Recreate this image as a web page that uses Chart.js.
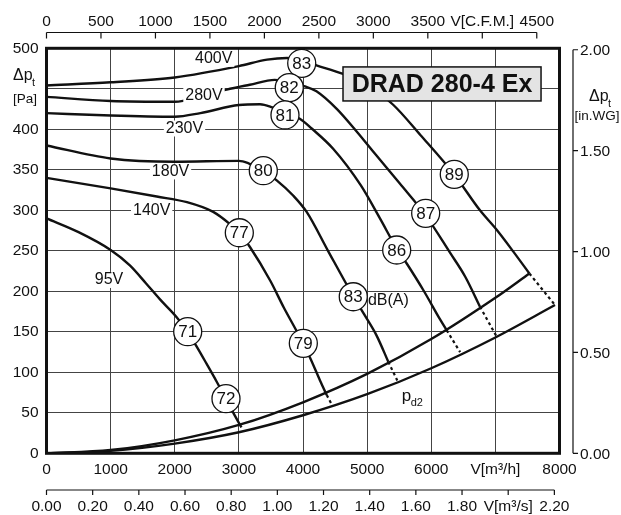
<!DOCTYPE html>
<html>
<head>
<meta charset="utf-8">
<script src="https://cdn.jsdelivr.net/npm/chart.js@4.4.0/dist/chart.umd.min.js"></script>
<style>
  html, body { margin: 0; padding: 0; background: #fff; }
  #wrap { width: 621px; height: 515px; }
</style>
</head>
<body>
<div id="wrap"><canvas id="fanChart" width="621" height="515"></canvas></div>
<script>
// fan curves: [flow V m3/h, total pressure Pa]
const curve400 = [[0,454],[1000,458],[2000,464],[3000,478],[3440,486],[3750,488],[3980,485],[4210,479],[4600,469],[5000,455],[5410,430],[5830,393],[6360,344],[6760,300],[7020,276],[7280,249],[7530,222]];
const curve280 = [[0,440],[1000,435],[2000,434],[2400,440],[2810,449],[3170,455],[3560,461],[3800,458],[4030,453],[4210,447],[4530,425],[4840,397],[5120,370],[5510,333],[5910,294],[6290,248],[6530,218],[6760,181]];
const curve230 = [[0,420],[1000,417],[2000,415.5],[2400,420],[3000,430],[3330,431],[3520,427],[3720,420],[3950,413],[4135,401],[4470,376],[4900,331],[5200,290],[5460,253],[5620,234],[5880,201],[6140,165],[6240,152]];
const curve180 = [[0,380],[1000,364],[2000,360],[3000,361],[3150,358],[3380,349],[3590,337],[3850,318],[4057,298],[4390,250],[4740,200],[4950,172],[5150,145],[5330,113]];
const curve140 = [[0,340],[1000,327],[1720,317],[2190,310],[2600,298],[2860,283],[3010,272],[3170,255],[3490,213],[3700,180],[3900,151],[4005,135],[4110,118],[4265,90],[4370,72]];
const curve95 = [[0,290],[500,273],[1000,251],[1300,232],[1550,210],[1770,190],[2030,168],[2200,150],[2340,132],[2500,110],[2650,89],[2800,67],[2920,49],[3040,32]];

// dotted continuations down to the pd2 line
const tail400 = [[7530,222],[7930,183]];
const tail280 = [[6760,181],[7020,144]];
const tail230 = [[6240,152],[6450,125]];
const tail180 = [[5330,113],[5470,90]];
const tail140 = [[4370,72],[4450,60]];

// system lines
const limitLine = [[0,0],[1000,4],[2000,16],[3000,35],[4000,63],[5000,98],[6000,141],[7000,192],[7530,222]];
const pd2Line = [[0,0],[1000,3],[2000,12],[3000,26],[4000,47],[5000,73],[6000,105],[7000,143],[7930,183]];

// labels: [text, V, p]
const voltLabels = [['400V',2607,487],['280V',2456,442],['230V',2152,401],['180V',1934,348],['140V',1640,300],['95V',975,214]];
const dbCircles = [['83',3980,481.5],['82',3786,451.4],['81',3719,417.7],['80',3381,348.9],['77',3007,272.3],['71',2202,150.1],
                   ['89',6359,344.4],['87',5913,296.3],['86',5461,251],['83',4784,193.3],['79',4005,135.8],['72',2799,67.4]];

// secondary axes
const cfmTicks = [0,500,1000,1500,2000,2500,3000,3500,4000,4500];
const cfmLabels = ['0','500','1000','1500','2000','2500','3000','3500','V[C.F.M.]','4500'];
const m3sTicks = [0,0.2,0.4,0.6,0.8,1.0,1.2,1.4,1.6,1.8,2.0,2.2];
const m3sLabels = ['0.00','0.20','0.40','0.60','0.80','1.00','1.20','1.40','1.60','1.80','V[m³/s]','2.20'];
const inwgTicks = [0,0.5,1.0,1.5,2.0];
const inwgLabels = ['0.00','0.50','1.00','1.50','2.00'];

const CFM = 1.699, M3S = 3600, INWG = 249.09;
const FONT = '"Liberation Sans", Arial, sans-serif';
const INK = '#111';

function txt(ctx, s, x, y, size, align = 'center', weight = '') {
  ctx.font = `${weight} ${size}px ${FONT}`;
  ctx.textAlign = align;
  ctx.textBaseline = 'middle';
  ctx.fillText(s, x, y);
}

const extras = {
  id: 'extras',
  afterDatasetsDraw(chart) {
    const { ctx, chartArea: a, scales: { x, y } } = chart;
    ctx.save();
    ctx.fillStyle = INK;
    ctx.strokeStyle = INK;

    // frame
    ctx.lineWidth = 3;
    ctx.strokeRect(a.left, a.top, a.right - a.left, a.bottom - a.top);

    // top axis, C.F.M.
    ctx.lineWidth = 1.2;
    const topY = 32.5;
    ctx.beginPath();
    ctx.moveTo(x.getPixelForValue(0), topY);
    ctx.lineTo(x.getPixelForValue(4500 * CFM), topY);
    cfmTicks.forEach(v => {
      const px = x.getPixelForValue(v * CFM);
      ctx.moveTo(px, topY); ctx.lineTo(px, topY + 6);
    });
    ctx.stroke();
    cfmTicks.forEach((v, i) => txt(ctx, cfmLabels[i], x.getPixelForValue(v * CFM), 22, 15.5));

    // bottom axis, m3/s
    const botY = 490;
    ctx.beginPath();
    ctx.moveTo(x.getPixelForValue(0), botY);
    ctx.lineTo(x.getPixelForValue(2.2 * M3S), botY);
    m3sTicks.forEach(v => {
      const px = x.getPixelForValue(v * M3S);
      ctx.moveTo(px, botY); ctx.lineTo(px, botY + 5);
    });
    ctx.stroke();
    m3sTicks.forEach((v, i) => txt(ctx, m3sLabels[i], x.getPixelForValue(v * M3S), 506.5, 15.5));

    // right axis, in.WG
    const rx = 573;
    ctx.beginPath();
    ctx.moveTo(rx, y.getPixelForValue(0));
    ctx.lineTo(rx, y.getPixelForValue(2 * INWG));
    inwgTicks.forEach(v => {
      const py = y.getPixelForValue(v * INWG);
      ctx.moveTo(rx, py); ctx.lineTo(rx + 5, py);
    });
    ctx.stroke();
    inwgTicks.forEach((v, i) => txt(ctx, inwgLabels[i], 580, y.getPixelForValue(v * INWG) + 1, 15.5, 'left'));

    // axis titles
    txt(ctx, 'Δp', 13, 76, 16, 'left');
    txt(ctx, 't', 32, 83, 11, 'left');
    txt(ctx, '[Pa]', 25, 99, 13.5);
    txt(ctx, 'Δp', 589, 97, 16, 'left');
    txt(ctx, 't', 608, 104, 11, 'left');
    txt(ctx, '[in.WG]', 597, 116, 13.5);

    // voltage labels on white
    voltLabels.forEach(([s, v, p]) => {
      const px = x.getPixelForValue(v), py = y.getPixelForValue(p);
      ctx.font = `16px ${FONT}`;
      const w = ctx.measureText(s).width;
      ctx.fillStyle = '#fff';
      ctx.fillRect(px - w / 2 - 2, py - 8, w + 4, 16);
      ctx.fillStyle = INK;
      txt(ctx, s, px, py, 16);
    });

    // dB(A) circles
    dbCircles.forEach(([s, v, p]) => {
      const px = x.getPixelForValue(v), py = y.getPixelForValue(p);
      ctx.beginPath();
      ctx.arc(px, py, 14, 0, Math.PI * 2);
      ctx.fillStyle = '#fff';
      ctx.fill();
      ctx.lineWidth = 1.3;
      ctx.stroke();
      ctx.fillStyle = INK;
      txt(ctx, s, px, py + 1, 17);
    });
    txt(ctx, 'dB(A)', x.getPixelForValue(5013), y.getPixelForValue(189), 16, 'left');

    // pd2
    const pdx = x.getPixelForValue(5539), pdy = y.getPixelForValue(70);
    txt(ctx, 'p', pdx, pdy, 17, 'left');
    txt(ctx, 'd2', pdx + 9, pdy + 6, 11, 'left');

    // type box
    const bx0 = x.getPixelForValue(4624), bx1 = x.getPixelForValue(7712);
    const by0 = y.getPixelForValue(477), by1 = y.getPixelForValue(435);
    ctx.fillStyle = '#e4e4e4';
    ctx.fillRect(bx0, by0, bx1 - bx0, by1 - by0);
    ctx.lineWidth = 1.5;
    ctx.strokeRect(bx0, by0, bx1 - bx0, by1 - by0);
    ctx.fillStyle = INK;
    txt(ctx, 'DRAD 280-4 Ex', (bx0 + bx1) / 2, (by0 + by1) / 2 + 1, 25, 'center', 'bold');

    ctx.restore();
  }
};

const toPts = data => data.map(([v, p]) => ({ x: v, y: p }));
const solid = data => ({
  data: toPts(data), borderColor: INK, borderWidth: 2.4, pointRadius: 0,
  showLine: true, fill: false, cubicInterpolationMode: 'monotone'
});
const dotted = data => ({
  data: toPts(data), borderColor: INK, borderWidth: 2.2, pointRadius: 0,
  showLine: true, fill: false, borderDash: [3, 3]
});

const ctx = document.getElementById('fanChart').getContext('2d');
new Chart(ctx, {
  type: 'scatter',
  data: {
    datasets: [
      solid(curve400), solid(curve280), solid(curve230), solid(curve180), solid(curve140), solid(curve95),
      dotted(tail400), dotted(tail280), dotted(tail230), dotted(tail180), dotted(tail140),
      solid(limitLine), solid(pd2Line)
    ]
  },
  options: {
    responsive: false,
    devicePixelRatio: 1,
    animation: false,
    events: [],
    layout: { padding: { top: 48.3, right: 61.5, bottom: 31.7, left: 0 } },
    plugins: { legend: { display: false }, tooltip: { enabled: false } },
    scales: {
      x: {
        type: 'linear', min: 0, max: 8000,
        afterFit: s => { s.height = 30; },
        border: { display: false },
        grid: { color: '#444', lineWidth: 1, drawTicks: false },
        ticks: {
          stepSize: 1000, padding: 7, color: INK, maxRotation: 0, autoSkip: false,
          font: { size: 15.5, family: FONT },
          callback: v => v === 7000 ? 'V[m³/h]' : String(v)
        }
      },
      y: {
        type: 'linear', min: 0, max: 500,
        afterFit: s => { s.width = 46.5; },
        border: { display: false },
        grid: { color: '#444', lineWidth: 1, drawTicks: false },
        ticks: {
          stepSize: 50, padding: 8, color: INK, autoSkip: false,
          font: { size: 15.5, family: FONT },
          callback: v => v === 450 ? '' : String(v)
        }
      }
    }
  },
  plugins: [extras]
});
</script>
</body>
</html>
